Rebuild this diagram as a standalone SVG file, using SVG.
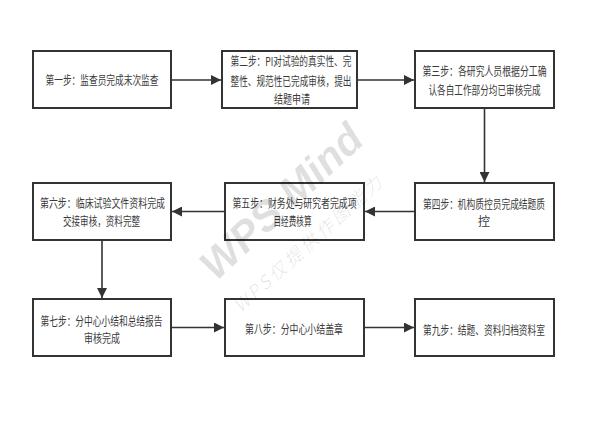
<svg xmlns="http://www.w3.org/2000/svg" width="595" height="423" viewBox="0 0 595 423">
<style>
.box{fill:#ffffff;stroke:#333333;stroke-width:2}
.t{font-family:"Noto Sans CJK SC","Microsoft YaHei",sans-serif;font-size:12px;fill:#3a3a3a;text-anchor:middle}
.c{fill:none;stroke:#333333;stroke-width:1.6}
.wm{font-family:"Liberation Sans",Arial,sans-serif;font-weight:bold;font-style:italic;fill:#000000;fill-opacity:0.13}
.wm2{font-family:"Noto Sans CJK SC",sans-serif;font-style:italic;font-weight:300;fill:#000000;fill-opacity:0.13}
</style>
<defs>
<marker id="arr" markerUnits="userSpaceOnUse" markerWidth="10" markerHeight="10" refX="10" refY="5" orient="auto">
<path d="M0,0 L10,5 L0,10 z" fill="#333333"/>
</marker>
</defs>
<rect width="595" height="423" fill="#ffffff"/>
<g id="connectors">
<path class="c" d="M171,80 H221" marker-end="url(#arr)"/>
<path class="c" d="M357,80 H414" marker-end="url(#arr)"/>
<path class="c" d="M484.5,108 V182" marker-end="url(#arr)"/>
<path class="c" d="M415,211.5 H365" marker-end="url(#arr)"/>
<path class="c" d="M225,211.5 H172" marker-end="url(#arr)"/>
<path class="c" d="M102,240 V298" marker-end="url(#arr)"/>
<path class="c" d="M171,327.5 H224" marker-end="url(#arr)"/>
<path class="c" d="M364,327.5 H414" marker-end="url(#arr)"/>
</g>
<g id="step1">
<rect class="box" x="33" y="51" width="138" height="57"/>
<text class="t" x="102" y="84.5" textLength="113" lengthAdjust="spacingAndGlyphs">第一步：监查员完成末次监查</text>
</g>
<g id="step2">
<rect class="box" x="222" y="51" width="135" height="57"/>
<text class="t" x="291" y="65.5" textLength="121" lengthAdjust="spacingAndGlyphs">第二步：PI对试验的真实性、完</text>
<text class="t" x="291" y="85.5" textLength="121" lengthAdjust="spacingAndGlyphs">整性、规范性已完成审核，提出</text>
<text class="t" x="292" y="103.5" textLength="36" lengthAdjust="spacingAndGlyphs">结题申请</text>
</g>
<g id="step3">
<rect class="box" x="415" y="51" width="139" height="57"/>
<text class="t" x="484.5" y="76" textLength="124" lengthAdjust="spacingAndGlyphs">第三步：各研究人员根据分工确</text>
<text class="t" x="484.5" y="94.5" textLength="112" lengthAdjust="spacingAndGlyphs">认各自工作部分均已审核完成</text>
</g>
<g id="step4">
<rect class="box" x="415" y="183" width="139" height="57"/>
<text class="t" x="484" y="208.5" textLength="122" lengthAdjust="spacingAndGlyphs">第四步：机构质控员完成结题质</text>
<text class="t" x="484" y="226">控</text>
</g>
<g id="step5">
<rect class="box" x="225" y="183" width="139" height="57"/>
<text class="t" x="294.5" y="208" textLength="124" lengthAdjust="spacingAndGlyphs">第五步：财务处与研究者完成项</text>
<text class="t" x="292.5" y="226" textLength="38" lengthAdjust="spacingAndGlyphs">目经费核算</text>
</g>
<g id="step6">
<rect class="box" x="33" y="183" width="138" height="57"/>
<text class="t" x="102.5" y="208" textLength="125" lengthAdjust="spacingAndGlyphs">第六步：临床试验文件资料完成</text>
<text class="t" x="101.5" y="226" textLength="77" lengthAdjust="spacingAndGlyphs">交接审核，资料完整</text>
</g>
<g id="step7">
<rect class="box" x="33" y="299" width="138" height="57"/>
<text class="t" x="101.5" y="326" textLength="122" lengthAdjust="spacingAndGlyphs">第七步：分中心小结和总结报告</text>
<text class="t" x="102" y="343" textLength="36" lengthAdjust="spacingAndGlyphs">审核完成</text>
</g>
<g id="step8">
<rect class="box" x="225" y="299" width="139" height="57"/>
<text class="t" x="294" y="334" textLength="98" lengthAdjust="spacingAndGlyphs">第八步：分中心小结盖章</text>
</g>
<g id="step9">
<rect class="box" x="415" y="299" width="139" height="57"/>
<text class="t" x="484" y="334.5" textLength="122" lengthAdjust="spacingAndGlyphs">第九步：结题、资料归档资料室</text>
</g>
<g id="watermark">
<text class="wm" font-size="42" transform="translate(291,212) rotate(-43)" text-anchor="middle" textLength="205" lengthAdjust="spacingAndGlyphs">WPS Mind</text>
<text class="wm2" font-size="18" transform="translate(312,249) rotate(-42)" text-anchor="middle" textLength="192" lengthAdjust="spacing">WPS仅提供作图能力</text>
</g>
</svg>
